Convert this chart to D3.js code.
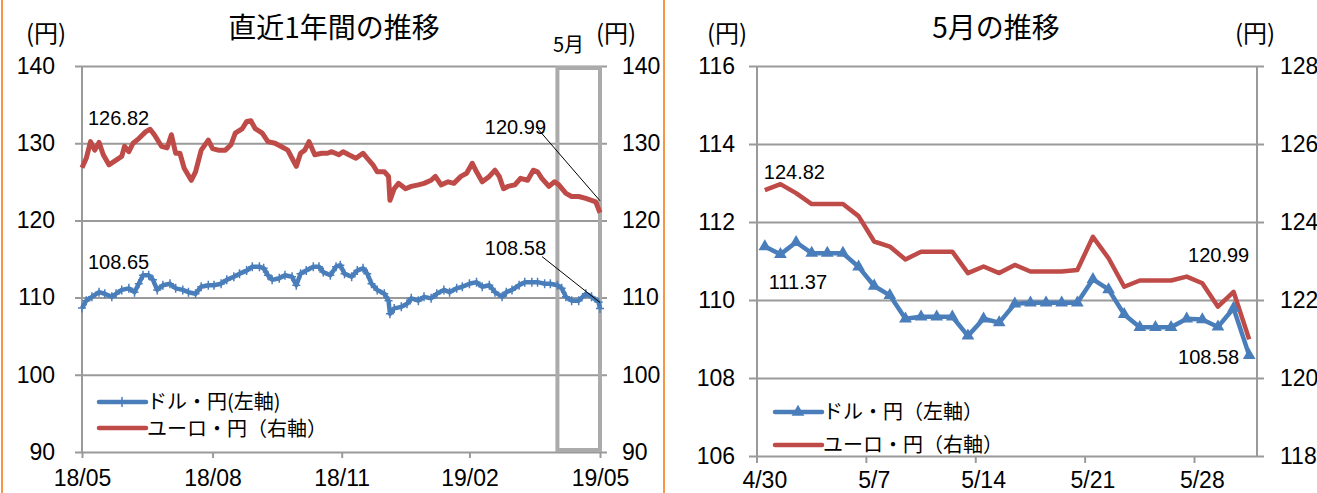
<!DOCTYPE html>
<html lang="ja">
<head>
<meta charset="UTF-8">
<title>ドル・円、ユーロ・円の推移</title>
<script src="https://d3js.org/d3.v7.min.js"></script>
<style>
  body { margin: 0; background: #fff; }
  svg { display: block; }
  .num { font-family: "Liberation Sans Narrow", "Liberation Sans", Arial, sans-serif; fill: #000; }
  .jp { font-family: "Noto Sans CJK JP", sans-serif; fill: #000; }
</style>
</head>
<body>
<div id="chart"></div>
<script>
// ---- left panel: last 12 months (daily) ----
const usdDates = ["2018-05-31","2018-06-03","2018-06-07","2018-06-12","2018-06-16","2018-06-21","2018-06-24","2018-06-28",
  "2018-07-03","2018-07-07","2018-07-10","2018-07-13","2018-07-17","2018-07-20","2018-07-23","2018-07-27",
  "2018-08-01","2018-08-05","2018-08-10","2018-08-14","2018-08-19","2018-08-23","2018-08-28","2018-09-01",
  "2018-09-06","2018-09-10","2018-09-15","2018-09-19","2018-09-24","2018-09-28","2018-10-03","2018-10-06",
  "2018-10-09","2018-10-12","2018-10-17","2018-10-21","2018-10-26","2018-10-29","2018-11-01","2018-11-05",
  "2018-11-10","2018-11-14","2018-11-17","2018-11-22","2018-11-26","2018-11-29","2018-12-02","2018-12-07",
  "2018-12-11","2018-12-15","2018-12-18","2018-12-21","2018-12-25","2018-12-30","2019-01-02","2019-01-03",
  "2019-01-06","2019-01-11","2019-01-15","2019-01-18","2019-01-23","2019-01-27","2019-02-01","2019-02-05",
  "2019-02-10","2019-02-14","2019-02-19","2019-02-23","2019-02-28","2019-03-05","2019-03-09","2019-03-14",
  "2019-03-18","2019-03-23","2019-03-26","2019-03-30","2019-04-04","2019-04-08","2019-04-13","2019-04-17",
  "2019-04-22","2019-04-26","2019-05-01","2019-05-04","2019-05-07","2019-05-11","2019-05-16","2019-05-21",
  "2019-05-25","2019-05-30","2019-05-31"];
const usdValues = [108.65,109.6,110.1,110.7,110.5,110.1,110.5,111.0,
  111.2,110.7,111.8,112.9,112.9,112.3,111.0,111.6,
  111.8,111.2,111.0,110.7,110.5,111.4,111.6,111.6,
  111.8,112.3,112.7,113.1,113.5,114.0,114.0,113.8,
  112.9,112.3,112.5,112.9,112.7,111.6,113.1,113.5,
  114.0,114.0,113.3,112.9,114.0,114.2,113.1,112.7,
  113.5,113.8,113.1,111.8,111.0,110.5,109.6,107.9,
  108.6,108.8,109.2,109.9,109.6,110.1,109.9,110.5,
  111.0,110.7,111.2,111.4,111.8,112.0,111.4,111.6,
  110.7,110.1,110.7,111.0,111.6,112.0,112.0,112.0,
  111.8,111.8,111.6,111.2,110.1,109.6,109.6,110.5,
  110.1,109.4,108.58];

const eurDates = ["2018-05-31","2018-06-03","2018-06-06","2018-06-09","2018-06-12","2018-06-15","2018-06-19","2018-06-24",
  "2018-06-28","2018-06-30","2018-07-03","2018-07-06","2018-07-10","2018-07-15","2018-07-18","2018-07-21",
  "2018-07-26","2018-07-30","2018-08-02","2018-08-05","2018-08-08","2018-08-11","2018-08-16","2018-08-19",
  "2018-08-23","2018-08-28","2018-08-31","2018-09-04","2018-09-09","2018-09-13","2018-09-16","2018-09-21",
  "2018-09-24","2018-09-27","2018-09-30","2018-10-05","2018-10-09","2018-10-14","2018-10-18","2018-10-23",
  "2018-10-26","2018-10-29","2018-11-01","2018-11-04","2018-11-07","2018-11-11","2018-11-16","2018-11-20",
  "2018-11-23","2018-11-28","2018-12-01","2018-12-05","2018-12-10","2018-12-15","2018-12-18","2018-12-22",
  "2018-12-25","2018-12-30","2019-01-02","2019-01-03","2019-01-06","2019-01-09","2019-01-14","2019-01-18",
  "2019-01-23","2019-01-27","2019-02-01","2019-02-04","2019-02-08","2019-02-13","2019-02-17","2019-02-22",
  "2019-02-26","2019-03-02","2019-03-05","2019-03-09","2019-03-14","2019-03-18","2019-03-21","2019-03-24",
  "2019-03-27","2019-04-01","2019-04-05","2019-04-10","2019-04-14","2019-04-17","2019-04-20","2019-04-25",
  "2019-04-29","2019-05-02","2019-05-07","2019-05-11","2019-05-16","2019-05-21","2019-05-25","2019-05-28",
  "2019-05-31"];
const eurValues = [126.82,128.05,130.2,129.1,130.1,128.5,127.2,127.8,
  128.3,129.6,128.9,130.0,130.6,131.5,131.8,131.1,
  129.6,129.4,131.1,128.7,128.7,126.75,125.2,126.3,
  129.1,130.4,129.3,129.1,129.1,129.8,131.3,131.9,
  132.8,132.9,131.9,131.3,130.2,130.0,129.6,129.1,
  128.05,127.0,128.7,129.1,130.2,128.5,128.7,128.7,
  128.9,128.5,128.9,128.5,128.05,128.7,128.05,127.2,
  126.3,126.3,125.7,122.6,124.1,124.8,124.1,124.4,
  124.6,124.8,125.2,125.7,124.6,125.0,124.8,125.7,
  126.1,127.4,126.3,125.0,125.7,126.5,125.7,124.1,
  124.4,124.6,125.45,125.2,126.5,126.3,125.45,124.4,
  125.0,124.6,123.5,123.1,123.1,122.85,122.6,122.4,
  120.99];

const yearTicks = ["2018-05-31","2018-08-31","2018-11-30","2019-02-28","2019-05-31"];
const yearAxisTicks = [90, 100, 110, 120, 130, 140];

// ---- right panel: May ----
const mayDays = ["4/30","5/1","5/2","5/3","5/4","5/5","5/6","5/7","5/8","5/9","5/10","5/11","5/12","5/13","5/14","5/15",
  "5/16","5/17","5/18","5/19","5/20","5/21","5/22","5/23","5/24","5/25","5/26","5/27","5/28","5/29","5/30","5/31"];
const mayUsd = [111.37,111.17,111.48,111.2,111.2,111.2,110.85,110.36,110.12,109.52,109.57,109.57,109.57,109.08,109.52,109.42,
  109.9,109.93,109.93,109.93,109.93,110.53,110.27,109.63,109.3,109.3,109.3,109.52,109.5,109.31,109.79,108.58];
const mayEur = [124.82,124.97,124.74,124.46,124.46,124.46,124.15,123.5,123.37,123.04,123.24,123.24,123.24,122.69,122.86,122.69,
  122.9,122.73,122.73,122.73,122.77,123.62,123.07,122.34,122.5,122.5,122.5,122.6,122.43,121.83,122.21,120.99];
const mayTickDays = ["4/30","5/7","5/14","5/21","5/28"];
const mayLeftTicks = [106, 108, 110, 112, 114, 116];
const mayRightTicks = [118, 120, 122, 124, 126, 128];

const BLUE = "#4a7ebb", RED = "#be4b48", GRID = "#9a9a9a", ORANGE = "#f79646";
const parse = d3.timeParse("%Y-%m-%d");

const svg = d3.select("#chart").append("svg").attr("width", 1317).attr("height", 493);

// panel borders
svg.append("line").attr("x1", 2).attr("x2", 2).attr("y1", 0).attr("y2", 493).attr("stroke", ORANGE).attr("stroke-width", 2);
svg.append("line").attr("x1", 664).attr("x2", 664).attr("y1", 0).attr("y2", 493).attr("stroke", ORANGE).attr("stroke-width", 2);

function hideDomain(g) { g.select(".domain").remove(); }

// ================= left panel =================
{
  const left = 82, right = 600, top = 66, bottom = 452;
  const x = d3.scaleTime().domain([parse("2018-05-31"), parse("2019-05-31")]).range([left, right]);
  const y = d3.scaleLinear().domain([90, 140]).range([bottom, top]);

  // gridlines + left labels
  svg.append("g").attr("transform", `translate(${left - 7},0)`)
    .call(d3.axisLeft(y).tickValues(yearAxisTicks).tickSizeInner(-(right - left + 14)).tickSizeOuter(0).tickPadding(20))
    .call(hideDomain)
    .call(g => g.selectAll("line").attr("stroke", GRID).attr("stroke-width", 2))
    .call(g => g.selectAll("text").attr("class", "num").attr("font-size", 23));
  svg.append("g").attr("transform", `translate(${right + 7},0)`)
    .call(d3.axisRight(y).tickValues(yearAxisTicks).tickSize(0).tickPadding(15))
    .call(hideDomain)
    .call(g => g.selectAll("text").attr("class", "num").attr("font-size", 23));

  // axis lines
  svg.append("line").attr("x1", left).attr("x2", left).attr("y1", top).attr("y2", bottom).attr("stroke", GRID).attr("stroke-width", 2);
  svg.append("line").attr("x1", right).attr("x2", right).attr("y1", top).attr("y2", bottom).attr("stroke", GRID).attr("stroke-width", 2);

  svg.append("g").attr("transform", `translate(0,${bottom})`)
    .call(d3.axisBottom(x).tickValues(yearTicks.map(parse)).tickFormat(d3.timeFormat("%y/%m")).tickSize(6).tickPadding(12))
    .call(hideDomain)
    .call(g => g.selectAll("line").attr("stroke", GRID).attr("stroke-width", 2))
    .call(g => g.selectAll("text").attr("class", "num").attr("font-size", 23));

  // May box
  svg.append("rect").attr("x", x(parse("2019-05-01"))).attr("y", top + 2)
    .attr("width", right - x(parse("2019-05-01"))).attr("height", bottom - top - 4)
    .attr("fill", "none").attr("stroke", "#ababab").attr("stroke-width", 4);

  const usd = usdDates.map((d, i) => ({ date: parse(d), v: usdValues[i] }));
  const eur = eurDates.map((d, i) => ({ date: parse(d), v: eurValues[i] }));
  const line = d3.line().x(d => x(d.date)).y(d => y(d.v));

  svg.append("path").datum(eur).attr("d", line).attr("fill", "none")
    .attr("stroke", RED).attr("stroke-width", 5).attr("stroke-linejoin", "round");
  svg.append("path").datum(usd).attr("d", line).attr("fill", "none")
    .attr("stroke", BLUE).attr("stroke-width", 4.5).attr("stroke-linejoin", "round");
  svg.append("g").selectAll("path").data(usd).join("path")
    .attr("transform", d => `translate(${x(d.date)},${y(d.v)})`)
    .attr("d", "M-4,0H4M0,-4.5V4.5").attr("stroke", BLUE).attr("stroke-width", 1.5);

  // value labels
  const e0 = eur[0], eN = eur[eur.length - 1], u0 = usd[0], uN = usd[usd.length - 1];
  svg.append("text").attr("class", "num").attr("font-size", 20).attr("x", x(e0.date) + 6).attr("y", y(e0.v) - 43).text(e0.v.toFixed(2));
  svg.append("text").attr("class", "num").attr("font-size", 20).attr("x", x(u0.date) + 6).attr("y", y(u0.v) - 39).text(u0.v.toFixed(2));
  svg.append("text").attr("class", "num").attr("font-size", 20).attr("text-anchor", "end").attr("x", x(eN.date) - 54).attr("y", y(eN.v) - 79).text(eN.v.toFixed(2));
  svg.append("text").attr("class", "num").attr("font-size", 20).attr("text-anchor", "end").attr("x", x(uN.date) - 54).attr("y", y(uN.v) - 54).text(uN.v.toFixed(2));
  svg.append("line").attr("x1", x(eN.date) - 64).attr("y1", y(eN.v) - 86).attr("x2", x(eN.date)).attr("y2", y(eN.v) - 12).attr("stroke", "#000");
  svg.append("line").attr("x1", x(uN.date) - 58).attr("y1", y(uN.v) - 52).attr("x2", x(uN.date)).attr("y2", y(uN.v) - 6).attr("stroke", "#000");

  // titles
  svg.append("text").attr("class", "jp").attr("font-size", 28).attr("text-anchor", "middle").attr("x", 334).attr("y", 38).text("直近1年間の推移");
  svg.append("text").attr("class", "jp").attr("font-size", 24).attr("x", 26).attr("y", 42).text("(円)");
  svg.append("text").attr("class", "jp").attr("font-size", 24).attr("x", 596).attr("y", 42).text("(円)");
  svg.append("text").attr("class", "jp").attr("font-size", 20).attr("x", 553).attr("y", 52).text("5月");

  // legend
  svg.append("line").attr("x1", 99).attr("x2", 146).attr("y1", 402).attr("y2", 402).attr("stroke", BLUE).attr("stroke-width", 4.5).attr("stroke-linecap", "round");
  svg.append("path").attr("d", "M118,402H126M122,397V407").attr("stroke", BLUE).attr("stroke-width", 1.5);
  svg.append("text").attr("class", "jp").attr("font-size", 20).attr("x", 147).attr("y", 409).text("ドル・円(左軸)");
  svg.append("line").attr("x1", 99).attr("x2", 146).attr("y1", 428).attr("y2", 428).attr("stroke", RED).attr("stroke-width", 4.5).attr("stroke-linecap", "round");
  svg.append("text").attr("class", "jp").attr("font-size", 20).attr("x", 147).attr("y", 436).text("ユーロ・円（右軸）");
}

// ================= right panel =================
{
  const left = 757, right = 1257, top = 66, bottom = 456;
  const x = d3.scaleBand().domain(mayDays).range([left, right]);
  const yl = d3.scaleLinear().domain([106, 116]).range([bottom, top]);
  const yr = d3.scaleLinear().domain([118, 128]).range([bottom, top]);
  const cx = d => x(d) + x.bandwidth() / 2;

  svg.append("g").attr("transform", `translate(${left - 8},0)`)
    .call(d3.axisLeft(yl).tickValues(mayLeftTicks).tickSizeInner(-(right - left + 15)).tickSizeOuter(0).tickPadding(14))
    .call(hideDomain)
    .call(g => g.selectAll("line").attr("stroke", GRID).attr("stroke-width", 2))
    .call(g => g.selectAll("text").attr("class", "num").attr("font-size", 23));
  svg.append("g").attr("transform", `translate(${right + 7},0)`)
    .call(d3.axisRight(yr).tickValues(mayRightTicks).tickSize(0).tickPadding(16))
    .call(hideDomain)
    .call(g => g.selectAll("text").attr("class", "num").attr("font-size", 23));

  svg.append("line").attr("x1", left).attr("x2", left).attr("y1", top).attr("y2", bottom).attr("stroke", GRID).attr("stroke-width", 2);
  svg.append("line").attr("x1", right).attr("x2", right).attr("y1", top).attr("y2", bottom).attr("stroke", GRID).attr("stroke-width", 2);

  // x ticks on day boundaries, labels centred on the day
  svg.append("g").selectAll("line").data(mayTickDays).join("line")
    .attr("x1", d => x(d)).attr("x2", d => x(d)).attr("y1", bottom).attr("y2", bottom + 7)
    .attr("stroke", GRID).attr("stroke-width", 2);
  svg.append("g").attr("transform", `translate(0,${bottom})`)
    .call(d3.axisBottom(x).tickValues(mayTickDays).tickSize(0).tickPadding(16))
    .call(hideDomain)
    .call(g => g.selectAll("text").attr("class", "num").attr("font-size", 23));

  const usd = mayDays.map((d, i) => ({ day: d, v: mayUsd[i] }));
  const eur = mayDays.map((d, i) => ({ day: d, v: mayEur[i] }));

  svg.append("path").datum(eur).attr("fill", "none").attr("stroke", RED).attr("stroke-width", 4.5).attr("stroke-linejoin", "round")
    .attr("d", d3.line().x(d => cx(d.day)).y(d => yr(d.v)));
  svg.append("path").datum(usd).attr("fill", "none").attr("stroke", BLUE).attr("stroke-width", 4.5).attr("stroke-linejoin", "round")
    .attr("d", d3.line().x(d => cx(d.day)).y(d => yl(d.v)));
  const tri = d3.symbol(d3.symbolTriangle).size(70);
  svg.append("g").selectAll("path").data(usd).join("path")
    .attr("transform", d => `translate(${cx(d.day)},${yl(d.v)})`).attr("d", tri).attr("fill", BLUE);

  const e0 = eur[0], eN = eur[eur.length - 1], u0 = usd[0], uN = usd[usd.length - 1];
  svg.append("text").attr("class", "num").attr("font-size", 20).attr("x", cx(e0.day) - 1).attr("y", yr(e0.v) - 11).text(e0.v.toFixed(2));
  svg.append("text").attr("class", "num").attr("font-size", 20).attr("x", cx(u0.day) + 4).attr("y", yl(u0.v) + 42).text(u0.v.toFixed(2));
  svg.append("text").attr("class", "num").attr("font-size", 20).attr("text-anchor", "end").attr("x", cx(eN.day)).attr("y", yr(eN.v) - 77).text(eN.v.toFixed(2));
  svg.append("text").attr("class", "num").attr("font-size", 20).attr("text-anchor", "end").attr("x", cx(uN.day) - 10).attr("y", yl(uN.v) + 9).text(uN.v.toFixed(2));

  svg.append("text").attr("class", "jp").attr("font-size", 28).attr("text-anchor", "middle").attr("x", 996).attr("y", 38).text("5月の推移");
  svg.append("text").attr("class", "jp").attr("font-size", 24).attr("x", 707).attr("y", 42).text("(円)");
  svg.append("text").attr("class", "jp").attr("font-size", 24).attr("x", 1235).attr("y", 42).text("(円)");

  svg.append("line").attr("x1", 775).attr("x2", 822).attr("y1", 412).attr("y2", 412).attr("stroke", BLUE).attr("stroke-width", 4.5).attr("stroke-linecap", "round");
  svg.append("path").attr("transform", "translate(798,412)").attr("d", tri).attr("fill", BLUE);
  svg.append("text").attr("class", "jp").attr("font-size", 20).attr("x", 823).attr("y", 419).text("ドル・円（左軸）");
  svg.append("line").attr("x1", 775).attr("x2", 822).attr("y1", 445).attr("y2", 445).attr("stroke", RED).attr("stroke-width", 4.5).attr("stroke-linecap", "round");
  svg.append("text").attr("class", "jp").attr("font-size", 20).attr("x", 823).attr("y", 452).text("ユーロ・円（右軸）");
}
</script>
</body>
</html>
